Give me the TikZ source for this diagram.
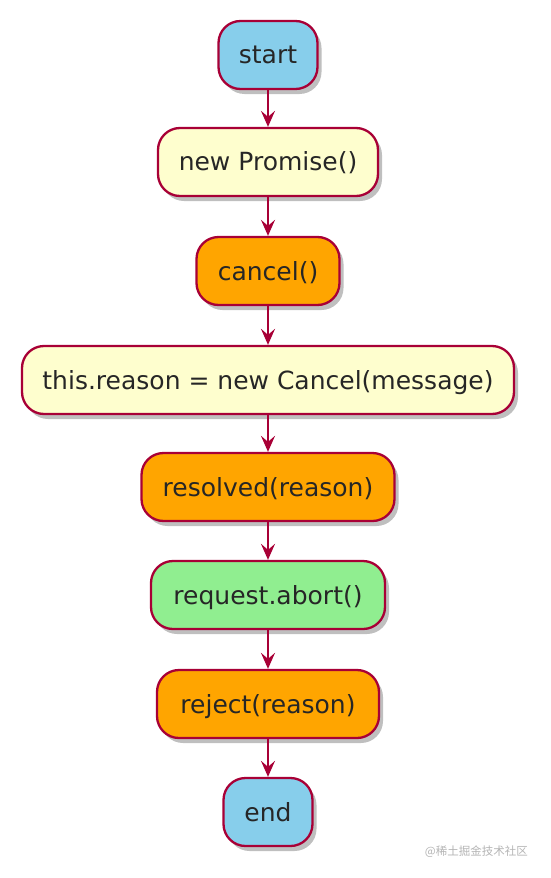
\documentclass[tikz,border=0pt]{standalone}
\usepackage{fontspec}
\setmainfont{DejaVu Sans}
\newfontfamily\cjk{Noto Sans CJK SC}
\usetikzlibrary{arrows.meta,shadows}
\definecolor{umlborder}{HTML}{A80036}
\definecolor{umlsky}{HTML}{87CEEB}
\definecolor{umlyellow}{HTML}{FEFECE}
\definecolor{umlorange}{HTML}{FFA500}
\definecolor{umlgreen}{HTML}{90EE90}
\definecolor{wmgray}{HTML}{B4B4B4}
\tikzset{
  act/.style={draw=umlborder, line width=2.3pt, rounded corners=22pt,
    minimum height=68pt, inner sep=0pt, font=\fontsize{25}{29}\selectfont,
    text=black!85, text depth=1pt,
    drop shadow={shadow xshift=4pt, shadow yshift=-5pt, opacity=0.25, fill=black}},
  flow/.style={draw=umlborder, line width=2pt,
    -{Stealth[length=16pt, width=14pt, inset=6pt]}}
}
\begin{document}
\begin{tikzpicture}[x=1pt, y=-1pt]
\useasboundingbox (0,0) rectangle (550,878);
\node[act, fill=umlsky, minimum width=99pt] (start) at (268,55) {start};
\node[act, fill=umlyellow, minimum width=220pt] (np) at (268,162) {new Promise()};
\node[act, fill=umlorange, minimum width=143pt] (cancel) at (268,271) {cancel()};
\node[act, fill=umlyellow, minimum width=492pt] (reason) at (268,380) {this.reason = new Cancel(message)};
\node[act, fill=umlorange, minimum width=253pt] (resolved) at (268,487) {resolved(reason)};
\node[act, fill=umlgreen, minimum width=234pt] (abort) at (268,595) {request.abort()};
\node[act, fill=umlorange, minimum width=222pt] (reject) at (268,704) {reject(reason)};
\node[act, fill=umlsky, minimum width=89pt] (end) at (268,812) {end};
\draw[flow] (start) -- (np);
\draw[flow] (np) -- (cancel);
\draw[flow] (cancel) -- (reason);
\draw[flow] (reason) -- (resolved);
\draw[flow] (resolved) -- (abort);
\draw[flow] (abort) -- (reject);
\draw[flow] (reject) -- (end);
\node[anchor=east, text=wmgray, font=\cjk\fontsize{11.5}{13}\selectfont, inner sep=0pt] (wm) at (528,852) {@稀土掘金技术社区};
\end{tikzpicture}
\end{document}
